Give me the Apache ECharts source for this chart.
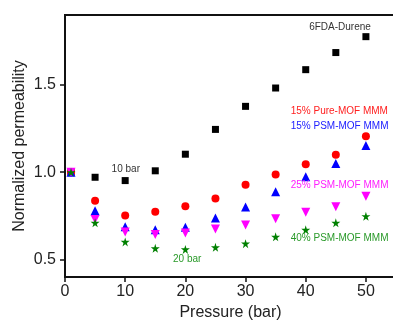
<!DOCTYPE html>
<html>
<head>
<meta charset="utf-8">
<script src="https://cdn.jsdelivr.net/npm/echarts@6/dist/echarts.min.js"></script>
<style>
html,body{margin:0;padding:0;background:#fff;}
#main{width:393px;height:322px;}
</style>
</head>
<body>
<div id="main"></div>
<script>
// pressure (bar)
var pressure = [1, 5, 10, 15, 20, 25, 30, 35, 40, 45, 50];
var durene   = [1.0, 0.971, 0.952, 1.008, 1.103, 1.245, 1.377, 1.482, 1.587, 1.685, 1.776];
var pure15   = [1.0, 0.836, 0.752, 0.773, 0.805, 0.849, 0.928, 0.987, 1.046, 1.100, 1.206];
var psm15    = [1.0, 0.780, 0.687, 0.671, 0.685, 0.738, 0.801, 0.888, 0.974, 1.050, 1.153];
var psm25    = [1.0, 0.729, 0.658, 0.643, 0.652, 0.675, 0.698, 0.733, 0.771, 0.802, 0.862];
var psm40    = [1.0, 0.710, 0.601, 0.564, 0.558, 0.570, 0.591, 0.630, 0.670, 0.710, 0.748];

var xTicks = [0, 10, 20, 30, 40, 50];
var yTicks = [0.5, 1.0, 1.5];

// annotation texts and where they sit (data coords)
var noteText = ['6FDA-Durene', '15% Pure-MOF MMM', '15% PSM-MOF MMM', '25% PSM-MOF MMM', '40% PSM-MOF MMM', '10 bar', '20 bar'];
var noteX    = [45.7, 37.5, 37.5, 37.5, 37.5, 10.1, 20.3];
var noteY    = [1.830, 1.350, 1.262, 0.928, 0.620, 1.019, 0.499];

var FONT = '"Liberation Sans", Arial, sans-serif';
var starPath = 'path://M50,0 L61,35 L98,35 L68,57 L79,91 L50,70 L21,91 L32,57 L2,35 L39,35 Z';

function pts(ys){
    var out = [];
    for (var i = 0; i < pressure.length; i++) out.push([pressure[i], ys[i]]);
    return out;
}

var noteColors = ['#333', '#ff2020', '#2020ff', '#ff20ff', '#2a9a2a', '#333', '#2a9a2a'];
var noteAlign  = ['center', 'left', 'left', 'left', 'left', 'center', 'center'];
var notes = [];
for (var k = 0; k < noteText.length; k++) {
    notes.push({
        value: [noteX[k], noteY[k]],
        label: {
            show: true,
            position: 'inside',
            formatter: noteText[k],
            color: noteColors[k],
            align: noteAlign[k],
            verticalAlign: 'middle',
            fontSize: 10,
            fontFamily: FONT
        }
    });
}

var chart = echarts.init(document.getElementById('main'));
var option = {
    animation: false,
    grid: {
        left: 65, top: 15, bottom: 45, width: 331,
        outerBoundsMode: 'none', containLabel: false,
        show: true, borderColor: '#111', borderWidth: 2
    },
    xAxis: {
        type: 'value', min: 0, max: 55,
        name: 'Pressure (bar)', nameLocation: 'middle', nameGap: 27,
        nameTextStyle: { fontSize: 16, color: '#222', fontFamily: FONT },
        axisLine: { show: true, onZero: false, lineStyle: { color: '#111', width: 2 } },
        axisTick: { show: true, length: 5, customValues: xTicks, lineStyle: { color: '#111', width: 1.5 } },
        axisLabel: { customValues: xTicks, fontSize: 16, color: '#222', margin: 7, fontFamily: FONT },
        splitLine: { show: false }
    },
    yAxis: {
        type: 'value', min: 0.4, max: 1.9,
        name: 'Normalized permeability', nameLocation: 'middle', nameGap: 37,
        nameMoveOverlap: false,
        nameTextStyle: { fontSize: 16, color: '#222', fontFamily: FONT },
        axisLine: { show: true, onZero: false, lineStyle: { color: '#111', width: 2 } },
        axisTick: { show: true, length: 5, customValues: yTicks, lineStyle: { color: '#111', width: 1.5 } },
        axisLabel: {
            customValues: yTicks, fontSize: 16, color: '#222', margin: 9, fontFamily: FONT,
            formatter: function (v) { return v.toFixed(1); }
        },
        splitLine: { show: false }
    },
    series: [
        { name: '6FDA-Durene', type: 'scatter', data: pts(durene), symbol: 'rect', symbolSize: 7, itemStyle: { color: '#000', opacity: 1 } },
        { name: '15% Pure-MOF MMM', type: 'scatter', data: pts(pure15), symbol: 'circle', symbolSize: 8, itemStyle: { color: '#ff0000', opacity: 1 } },
        { name: '15% PSM-MOF MMM', type: 'scatter', data: pts(psm15), symbol: 'triangle', symbolSize: 9, itemStyle: { color: '#0000ff', opacity: 1 } },
        { name: '25% PSM-MOF MMM', type: 'scatter', data: pts(psm25), symbol: 'triangle', symbolRotate: 180, symbolSize: 9, itemStyle: { color: '#ff00ff', opacity: 1 } },
        { name: '40% PSM-MOF MMM', type: 'scatter', data: pts(psm40), symbol: starPath, symbolSize: 9, itemStyle: { color: '#008000', opacity: 1 } },
        { name: 'notes', type: 'scatter', data: notes, symbolSize: 1, silent: true, itemStyle: { color: 'rgba(0,0,0,0)', opacity: 1 } }
    ]
};
chart.setOption(option);
</script>
</body>
</html>
